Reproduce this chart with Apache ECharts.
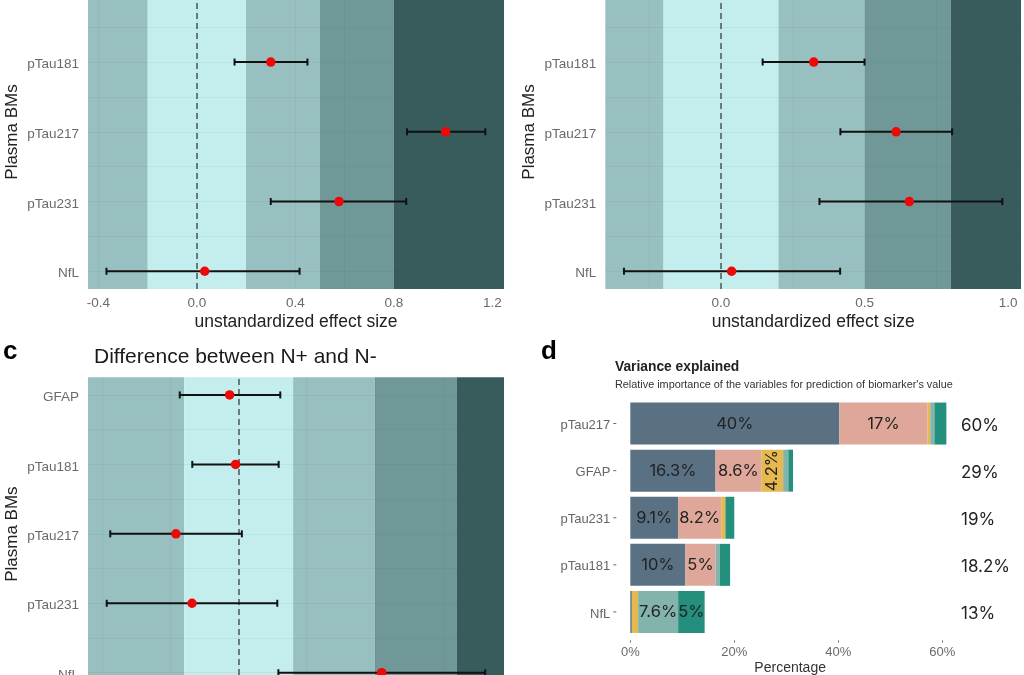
<!DOCTYPE html>
<html>
<head>
<meta charset="utf-8">
<style>
html,body{margin:0;padding:0;background:#fff;}
#chart{width:1024px;height:675px;}
</style>
<script src="https://cdn.jsdelivr.net/npm/echarts@6/dist/echarts.min.js"></script>
</head>
<body>
<div id="chart"></div>
<script>
// forest panels: row 0 is the lowest row
var rowNames = ['NfL', 'pTau231', 'pTau217', 'pTau181', 'GFAP'];
var bandEdges = [-0.2, 0.2, 0.5, 0.8];

var aMean = [0.032, 0.577, 1.01, 0.30];
var aLow = [-0.367, 0.30, 0.853, 0.153];
var aHigh = [0.417, 0.85, 1.171, 0.449];
var aTicks = [-0.4, 0, 0.4, 0.8, 1.2];

var bMean = [0.037, 0.656, 0.61, 0.323];
var bLow = [-0.338, 0.343, 0.416, 0.145];
var bHigh = [0.415, 0.98, 0.805, 0.50];
var bTicks = [0, 0.5, 1];

var cMean = [0.525, -0.171, -0.23, -0.011, -0.033];
var cLow = [0.146, -0.484, -0.471, -0.17, -0.216];
var cHigh = [0.905, 0.142, 0.012, 0.147, 0.153];

// variance panel
var dCategories = ['pTau217', 'GFAP', 'pTau231', 'pTau181', 'NfL'];
var dTotals = ['60%', '29%', '19%', '18.2%', '13%'];
var dBlue = [40.2, 16.4, 9.2, 10.6, 0.3];
var dPink = [17.0, 8.8, 8.3, 5.8, 0];
var dYellow = [0.5, 4.2, 0.8, 0, 1.2];
var dLight = [0.8, 1.0, 0, 0.8, 7.7];
var dGreen = [2.3, 0.9, 1.7, 2.0, 5.1];
var dBlueLabels = ['40%', '16.3%', '9.1%', '10%', ''];
var dPinkLabels = ['17%', '8.6%', '8.2%', '5%', ''];
var dYellowLabels = ['', '4.2%', '', '', ''];
var dLightLabels = ['', '', '', '', '7.6%'];
var dGreenLabels = ['', '', '', '', '5%'];
var dTicks = [0, 20, 40, 60];

var FONT = '"Liberation Sans", Arial, sans-serif';
var grids = [], xAxes = [], yAxes = [], series = [];

function forestPanel(p){
	var idx = grids.length;
	grids.push({left: p.left, width: p.width, top: p.top, height: p.height, outerBoundsMode: 'none'});
	xAxes.push({
		gridIndex: idx, type: 'value', min: p.xMin, max: p.xMax, show: p.showX,
		name: 'unstandardized effect size', nameLocation: 'middle', nameGap: 24,
		nameTextStyle: {fontFamily: FONT, fontSize: 17.5, color: '#222'},
		axisLine: {show: false}, axisTick: {show: false}, splitLine: {show: false},
		axisLabel: {
			customValues: p.ticks, margin: 7, fontFamily: FONT, fontSize: 13.5, color: '#6a6a6a',
			hideOverlap: false, showMinLabel: true, showMaxLabel: true,
			formatter: function(v){ return v.toFixed(1); }
		}
	});
	yAxes.push({
		gridIndex: idx, type: 'value', min: p.yMin, max: p.yMax,
		name: 'Plasma BMs', nameLocation: 'middle', nameGap: 67, nameRotate: 90,
		nameTextStyle: {fontFamily: FONT, fontSize: 17, color: '#222', padding: p.namePad},
		axisLine: {show: false}, axisTick: {show: false}, splitLine: {show: false},
		axisLabel: {
			customValues: p.mean.map(function(m, i){ return i; }), margin: 9,
			fontFamily: FONT, fontSize: 13.5, color: '#6a6a6a', hideOverlap: false,
			verticalAlign: 'top', lineHeight: 5,
			formatter: function(v){ return rowNames[v]; }
		}
	});

	var edges = [p.xMin].concat(bandEdges, [p.xMax]);
	var bandColors = ['#99c0c0', '#c4eeed', '#99c0c0', '#709898', '#385c5c'];
	var areas = [];
	for(var i = 0; i < bandColors.length; i++){
		areas.push([{xAxis: edges[i], itemStyle: {color: bandColors[i], opacity: 1}}, {xAxis: edges[i + 1]}]);
	}
	var gridLines = [];
	p.gridX.forEach(function(v){ gridLines.push({xAxis: v}); });
	for(var r = 0; r <= p.mean.length; r += 0.5){
		if(r < p.yMax) gridLines.push({yAxis: r});
	}
	series.push({
		type: 'line', xAxisIndex: idx, yAxisIndex: idx, data: [], silent: true,
		markArea: {silent: true, z: 1, data: areas},
		markLine: {
			silent: true, z: 2, symbol: 'none', label: {show: false},
			lineStyle: {color: 'rgba(30,60,60,0.06)', width: 1, type: 'solid'},
			data: gridLines
		}
	});
	// zero reference
	series.push({
		type: 'line', xAxisIndex: idx, yAxisIndex: idx, data: [], silent: true,
		markLine: {
			silent: true, z: 3, symbol: 'none', label: {show: false},
			lineStyle: {color: '#5e6e6e', width: 1.8, type: [6, 4]},
			data: [{xAxis: 0}]
		}
	});
	var bars = p.mean.map(function(m, i){ return [p.low[i], p.high[i], i]; });
	series.push({
		type: 'custom', xAxisIndex: idx, yAxisIndex: idx, z: 6, data: bars, silent: true,
		encode: {x: [0, 1], y: 2},
		renderItem: function(params, api){
			var a = api.coord([api.value(0), api.value(2)]);
			var b = api.coord([api.value(1), api.value(2)]);
			var style = {stroke: '#111', lineWidth: 2, fill: null};
			return {type: 'group', children: [
				{type: 'line', shape: {x1: a[0], y1: a[1], x2: b[0], y2: b[1]}, style: style},
				{type: 'line', shape: {x1: a[0], y1: a[1] - 3.5, x2: a[0], y2: a[1] + 3.5}, style: style},
				{type: 'line', shape: {x1: b[0], y1: b[1] - 3.5, x2: b[0], y2: b[1] + 3.5}, style: style}
			]};
		}
	});
	series.push({
		type: 'scatter', xAxisIndex: idx, yAxisIndex: idx, z: 7, symbolSize: 9.5, silent: true,
		itemStyle: {color: '#ee0808', opacity: 1},
		data: p.mean.map(function(m, i){ return [m, i]; })
	});
}

forestPanel({left: 88, width: 416, top: 0, height: 289, xMin: -0.442, xMax: 1.247, yMin: -0.2546, yMax: 3.89,
	mean: aMean, low: aLow, high: aHigh, ticks: aTicks, showX: true, namePad: [0, 0, 0, 25], gridX: [-0.4, -0.2, 0, 0.2, 0.4, 0.6, 0.8, 1, 1.2]});
forestPanel({left: 605.3, width: 415.7, top: 0, height: 289, xMin: -0.403, xMax: 1.045, yMin: -0.2546, yMax: 3.89,
	mean: bMean, low: bLow, high: bHigh, ticks: bTicks, showX: true, namePad: [0, 0, 0, 25], gridX: [-0.25, 0, 0.25, 0.5, 0.75, 1]});
forestPanel({left: 88, width: 416, top: 377.3, height: 297.7, xMin: -0.5527, xMax: 0.974, yMin: -0.033, yMax: 4.254,
	mean: cMean, low: cLow, high: cHigh, ticks: [], showX: false, namePad: [0, 16, 0, 0], gridX: [-0.5, -0.25, 0, 0.25, 0.5, 0.75]});

// panel d, stacked bars
var dIdx = grids.length;
grids.push({left: 630.3, width: 319.7, top: 400, height: 235.5, outerBoundsMode: 'none'});
xAxes.push({
	gridIndex: dIdx, type: 'value', min: 0, max: 61.5, interval: 20,
	name: 'Percentage', nameLocation: 'middle', nameGap: 21,
	nameTextStyle: {fontFamily: FONT, fontSize: 14, color: '#333'},
	offset: 5,
	axisLine: {show: false}, splitLine: {show: false},
	axisTick: {show: true, length: 2, customValues: dTicks, lineStyle: {color: '#666'}},
	axisLabel: {
		customValues: dTicks, margin: 5, fontFamily: FONT, fontSize: 13, color: '#6a6a6a',
		formatter: function(v){ return v + '%'; }
	}
});
yAxes.push({
	gridIndex: dIdx, type: 'category', inverse: true, data: dCategories, offset: 14,
	axisLine: {show: false},
	axisTick: {show: false},
	axisLabel: {margin: 6, fontFamily: FONT, fontSize: 13, color: '#666', verticalAlign: 'top', lineHeight: 4}
});
yAxes.push({
	gridIndex: dIdx, type: 'category', inverse: true, position: 'right', data: dTotals,
	axisLine: {show: false}, axisTick: {show: false},
	axisLabel: {margin: 11, fontFamily: 'Inter, ' + FONT, fontSize: 17, color: '#222', verticalAlign: 'top', lineHeight: 4}
});

function stackSeries(name, values, labels, color){
	series.push({
		name: name, type: 'bar', stack: 'total', xAxisIndex: dIdx, yAxisIndex: 1 + dIdx, barWidth: 42, z: 3,
		itemStyle: {color: color},
		data: values.map(function(v, i){
			return {value: v, label: {
				show: labels[i] !== '', formatter: labels[i], position: 'inside',
				rotate: labels[i] === '4.2%' ? 90 : 0,
				fontFamily: 'Inter, ' + FONT, fontSize: 16.5, color: '#222'
			}};
		})
	});
}
stackSeries('a', dBlue, dBlueLabels, '#5a7184');
stackSeries('b', dPink, dPinkLabels, '#dea79a');
stackSeries('c', dYellow, dYellowLabels, '#e6b84e');
stackSeries('e', dLight, dLightLabels, '#82b4ad');
stackSeries('f', dGreen, dGreenLabels, '#248f7c');

// small ticks beside the category names, set away from the bars
series.push({
	type: 'custom', xAxisIndex: dIdx, yAxisIndex: dIdx, silent: true, clip: false,
	data: dCategories.map(function(c, i){ return [0, i]; }),
	renderItem: function(params, api){
		var p = api.coord([api.value(0), api.value(1)]);
		return {type: 'line', shape: {x1: p[0] - 17, y1: p[1], x2: p[0] - 14, y2: p[1]}, style: {stroke: '#666', lineWidth: 1}};
	}
});

var option = {
	animation: false,
	backgroundColor: '#fff',
	title: [
		{text: 'c', left: 3, top: 339, padding: 0, textStyle: {fontFamily: FONT, fontSize: 26, fontWeight: 'bold', color: '#000'}},
		{text: 'd', left: 541, top: 339, padding: 0, textStyle: {fontFamily: FONT, fontSize: 26, fontWeight: 'bold', color: '#000'}},
		{text: 'Difference between N+ and N-', left: 94, top: 347, padding: 0, textStyle: {fontFamily: FONT, fontSize: 21, fontWeight: 'normal', color: '#1a1a1a'}},
		{text: 'Variance explained', left: 615, top: 360, padding: 0, textStyle: {fontFamily: FONT, fontSize: 13.8, fontWeight: 'bold', color: '#222'}},
		{text: "Relative importance of the variables for prediction of biomarker's value", left: 615, top: 379, padding: 0, textStyle: {fontFamily: FONT, fontSize: 10.85, fontWeight: 'normal', color: '#333'}}
	],
	grid: grids,
	xAxis: xAxes,
	yAxis: yAxes,
	series: series
};

var myChart = echarts.init(document.getElementById('chart'));
myChart.setOption(option);
</script>
</body>
</html>
